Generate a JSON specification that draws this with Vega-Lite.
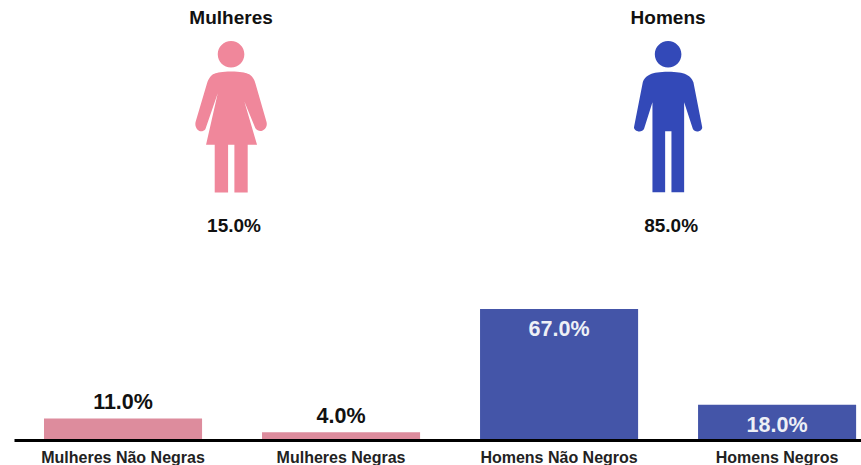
{
"$schema":"https://vega.github.io/schema/vega-lite/v6.json",
"padding":0,
"spacing":0,
"background":"white",
"resolve":{"scale":{"color":"independent","shape":"independent"}},
"config":{"view":{"stroke":null},"font":"Liberation Sans"},
"vconcat":[
{
"width":861,"height":233,
"data":{"values":[{"genero":"Mulheres","total":"15.0%"},{"genero":"Homens","total":"85.0%"}]},
"encoding":{"x":{"field":"genero","type":"nominal","axis":null,"scale":{"type":"point","domain":["Mulheres","Homens"],"padding":0.485,"align":0.545}}},
"layer":[
{"mark":{"type":"text","dy":-98.5,"font":"Liberation Sans","fontWeight":"bold","fontSize":19,"color":"#111111"},
 "encoding":{"text":{"field":"genero"}}},
{"mark":{"type":"point","filled":true,"opacity":1,"strokeWidth":0,"size":23104},
 "encoding":{
 "shape":{"field":"genero","legend":null,"scale":{"domain":["Mulheres","Homens"],"range":[
 "M0,-.592C.123,-.592,.189,-.579,.219,-.561C.276,-.544,.303,-.491,.320,-.439L.465,.066C.496,.154,.386,.241,.320,.154L.175,-.197L.342,.373L.219,.373L.219,1L.044,1L.044,.373L-.039,.373L-.039,1L-.215,1L-.215,.373L-.329,.373L-.175,-.307L-.338,.167C-.404,.241,-.491,.154,-.465,.066L-.316,-.439C-.294,-.491,-.272,-.544,-.219,-.561C-.184,-.579,-.118,-.592,0,-.592ZM-.175,-.82A.175,.175,0,1,1,.175,-.82A.175,.175,0,1,1,-.175,-.82Z",
 "M0,-.588C.224,-.588,.298,-.539,.333,-.452L.447,.132C.465,.193,.355,.228,.325,.162L.211,-.189L.211,.996L.044,.996L.044,.193L-.039,.193L-.039,.996L-.206,.996L-.206,-.189L-.316,.162C-.346,.228,-.465,.193,-.447,.132L-.333,-.452C-.298,-.539,-.224,-.588,0,-.588ZM-.175,-.82A.175,.175,0,1,1,.175,-.82A.175,.175,0,1,1,-.175,-.82Z"]}},
 "color":{"field":"genero","legend":null,"scale":{"domain":["Mulheres","Homens"],"range":["#F0879B","#3349B8"]}}}},
{"mark":{"type":"text","dy":109.5,"dx":3,"font":"Liberation Sans","fontWeight":"bold","fontSize":19,"color":"#111111"},
 "encoding":{"text":{"field":"total"}}}
]
},
{
"width":861,"height":204,
"data":{"values":[
{"categoria":"Mulheres Não Negras","genero":"Mulheres","valor":11.0,"rotulo":"11.0%"},
{"categoria":"Mulheres Negras","genero":"Mulheres","valor":4.0,"rotulo":"4.0%"},
{"categoria":"Homens Não Negros","genero":"Homens","valor":67.0,"rotulo":"67.0%"},
{"categoria":"Homens Negros","genero":"Homens","valor":18.0,"rotulo":"18.0%"}]},
"encoding":{
"x":{"field":"categoria","type":"nominal","sort":null,"title":null,
 "scale":{"type":"band","range":[14,861],"paddingInner":0.275,"paddingOuter":0.08,"align":0.86},
 "axis":{"zindex":1,"domainColor":"#000000","domainWidth":3,"ticks":false,"labelAngle":0,"labelFont":"Liberation Sans","labelFontWeight":"bold","labelFontSize":16,"labelColor":"#222222","labelPadding":9,"labelOverlap":false,"grid":false}},
"y":{"field":"valor","type":"quantitative","axis":null,"scale":{"domain":[0,104.3],"nice":false}}},
"layer":[
{"mark":{"type":"bar"},"encoding":{"color":{"field":"genero","legend":null,"scale":{"domain":["Mulheres","Homens"],"range":["#DD8C9D","#4455A8"]}}}},
{"transform":[{"filter":"datum.genero==='Mulheres'"}],"mark":{"type":"text","baseline":"bottom","dy":-4,"font":"Liberation Sans","fontWeight":"bold","fontSize":21.5,"color":"#111111"},"encoding":{"text":{"field":"rotulo"}}},
{"transform":[{"filter":"datum.genero==='Homens'"}],"mark":{"type":"text","baseline":"top","dy":10,"font":"Liberation Sans","fontWeight":"bold","fontSize":21.5,"color":"#EEF0F6"},"encoding":{"text":{"field":"rotulo"}}}
]
}
]
}
